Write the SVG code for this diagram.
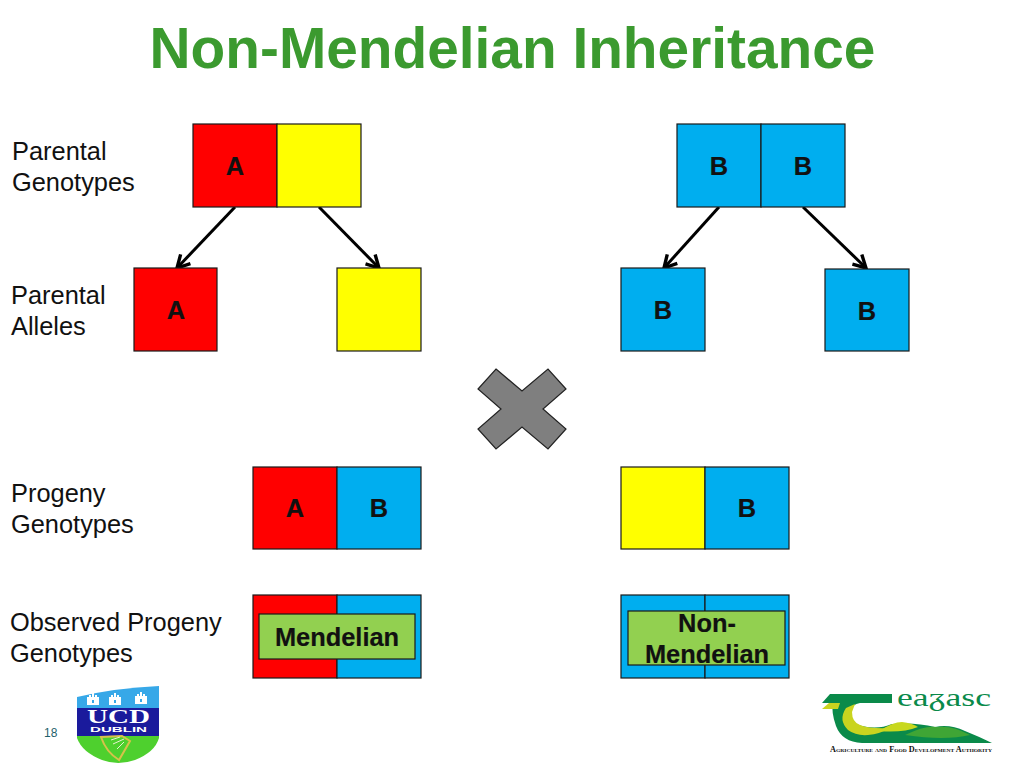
<svg xmlns="http://www.w3.org/2000/svg" width="1024" height="768" viewBox="0 0 1024 768">
<style>
text{font-family:"Liberation Sans",Arial,sans-serif}
.title{font-size:56.8px;font-weight:700;fill:#3b9a2f}
.lbl{font-size:25.4px;fill:#111}
.b{stroke:#1a1a1a;stroke-width:1.2}
.r{fill:#ff0000}.y{fill:#ffff00}.c{fill:#00aeef}.g{fill:#92d050}
.l{font-size:25.4px;font-weight:700;fill:#111;text-anchor:middle;stroke:#111;stroke-width:.2}
.conn{stroke:#000;stroke-width:3;fill:none;marker-end:url(#a)}
.serif{font-family:"Liberation Serif",serif}
</style>
<defs>
<marker id="a" markerUnits="userSpaceOnUse" markerWidth="18" markerHeight="18" refX="13" refY="8" orient="auto" viewBox="0 0 16 16">
<path d="M2 2L13 8L2 14" fill="none" stroke="#000" stroke-width="3"/>
</marker>
<g id="castle"><path d="M0 12V4H2V2H4V4H5V0H7V4H8V2H10V4H12V12Z" fill="#fff"/><rect x="5" y="7" width="2" height="3" fill="#37a8e8"/></g>
</defs>
<rect width="1024" height="768" fill="#fff"/>
<text class="title" x="512.5" y="68" text-anchor="middle">Non-Mendelian Inheritance</text>
<text class="lbl" x="12" y="160">Parental</text><text class="lbl" x="12" y="191">Genotypes</text>
<text class="lbl" x="11" y="304">Parental</text><text class="lbl" x="11" y="335">Alleles</text>
<text class="lbl" x="11" y="502">Progeny</text><text class="lbl" x="11" y="533">Genotypes</text>
<text class="lbl" x="10" y="631">Observed Progeny</text><text class="lbl" x="10" y="662">Genotypes</text>
<g id="connectors">
<path class="conn" d="M235 207L177 268"/>
<path class="conn" d="M319 207L379 268"/>
<path class="conn" d="M719 207L664 268"/>
<path class="conn" d="M803 207L866 268"/>
</g>
<g id="parent-left"><rect class="b r" x="193" y="124" width="84" height="83"/><rect class="b y" x="277" y="124" width="84" height="83"/><text class="l" x="235" y="175">A</text></g>
<g id="parent-right"><rect class="b c" x="677" y="124" width="84" height="83"/><rect class="b c" x="761" y="124" width="84" height="83"/><text class="l" x="719" y="175">B</text><text class="l" x="803" y="175">B</text></g>
<g id="allele-a"><rect class="b r" x="134" y="268" width="83" height="83"/><text class="l" x="176" y="319">A</text></g>
<g id="allele-y"><rect class="b y" x="337" y="268" width="84" height="83"/></g>
<g id="allele-b1"><rect class="b c" x="621" y="268" width="84" height="83"/><text class="l" x="663" y="319">B</text></g>
<g id="allele-b2"><rect class="b c" x="825" y="269" width="84" height="82"/><text class="l" x="867" y="320">B</text></g>
<g id="cross"><polygon points="496,369 522,391 548,369 566,389 543,409 566,429 548,449 522,427 496,449 478,429 501,409 478,389" fill="#7f7f7f" stroke="#222" stroke-width="1.2"/></g>
<g id="progeny-ab"><rect class="b r" x="253" y="467" width="84" height="82"/><rect class="b c" x="337" y="467" width="84" height="82"/><text class="l" x="295" y="517">A</text><text class="l" x="379" y="517">B</text></g>
<g id="progeny-yb"><rect class="b y" x="621" y="467" width="84" height="82"/><rect class="b c" x="705" y="467" width="84" height="82"/><text class="l" x="747" y="517">B</text></g>
<g id="observed-left"><rect class="b r" x="253" y="595" width="84" height="83"/><rect class="b c" x="337" y="595" width="84" height="83"/><rect class="b g" x="259" y="614" width="156" height="45"/><text class="l" x="337" y="646">Mendelian</text></g>
<g id="observed-right"><rect class="b c" x="621" y="595" width="84" height="83"/><rect class="b c" x="705" y="595" width="84" height="83"/><rect class="b g" x="628" y="611" width="157" height="54"/><text class="l" x="707" y="632">Non-</text><text class="l" x="707" y="663">Mendelian</text></g>
<text x="44" y="737" font-size="12" fill="#1f5f6b">18</text>
<g id="ucd-logo">
<path d="M77 697Q115 688 159 686V708H77Z" fill="#37a8e8"/>
<rect x="77" y="708" width="82" height="28" fill="#1a1a9c"/>
<path d="M77 736H159V738Q155 752 135 760Q118 766 102 760Q82 752 77 738Z" fill="#4ed02e"/>
<use href="#castle" x="87" y="693"/><use href="#castle" x="109" y="693"/><use href="#castle" x="135" y="692"/>
<text class="serif" x="87" y="723" font-size="18" font-weight="700" fill="#fff" textLength="63" lengthAdjust="spacingAndGlyphs">UCD</text>
<text x="90" y="732" font-size="8" fill="#fff" font-weight="700" textLength="57" lengthAdjust="spacingAndGlyphs">DUBLIN</text>
<path d="M101 737Q106 752 119 760L130 741L122 736Z" fill="none" stroke="#d6c24a" stroke-width="2"/>
<path d="M111 740L120 737M113 744L124 739M117 749L124 742" stroke="#e8f0d0" stroke-width="1"/>
</g>
<g id="teagasc-logo">
<path d="M830 694H892V703H860Q852 704 850 712Q848 722 862 726Q878 730 892 724Q915 722 935 727Q950 724 965 731Q980 737 992 743H862Q842 742 836 726Q831 712 833 703H822Z" fill="#0a8a4a"/>
<path d="M822 709L829 703H840L838 709Z" fill="#c9d41f"/>
<path d="M846 708Q838 720 848 730Q856 736 868 735Q880 734 890 728Q870 729 860 725Q852 722 852 712L855 704Z" fill="#c9d41f"/>
<path d="M879 731Q893 722 902 722Q912 723 918 727Q903 733 879 731Z" fill="#c8d81e"/>
<path d="M905 735Q925 725 937 727Q952 725 970 735Q945 741 905 735Z" fill="#3fa535"/>
<text class="serif" x="897" y="706" font-size="25" fill="#0a8a4a" textLength="94" lengthAdjust="spacingAndGlyphs">eaᵹasc</text>
<text class="serif" x="830" y="752" font-size="7.400" font-weight="700" fill="#111" textLength="162" lengthAdjust="spacingAndGlyphs" style="font-variant:small-caps">Agriculture and Food Development Authority</text>
</g>
</svg>
